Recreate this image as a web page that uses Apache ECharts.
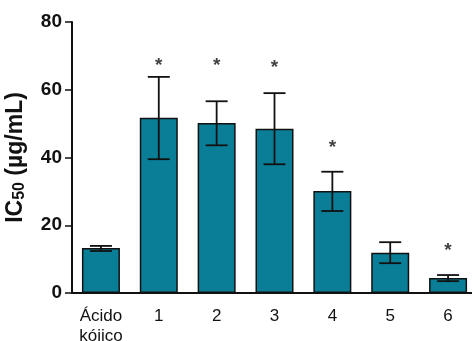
<!DOCTYPE html>
<html>
<head>
<meta charset="utf-8">
<script src="https://cdn.jsdelivr.net/npm/echarts@6/dist/echarts.min.js"></script>
<style>
  html, body { margin: 0; padding: 0; background: #fff; }
  #chart { width: 472px; height: 341px; }
</style>
</head>
<body>
<div id="chart"></div>
<script>
// IC50 values per compound (µg/mL) with error bar limits
const categories = ['Ácido\nkójico', '1', '2', '3', '4', '5', '6'];
const ic50 = [13.3, 51.7, 50.2, 48.5, 30.1, 11.9, 4.4];
const errLow = [12.4, 39.5, 43.6, 38.0, 24.2, 8.8, 3.5];
const errHigh = [13.9, 63.8, 56.6, 59.0, 35.8, 15.0, 5.3];
// significance markers: category index and height (µg/mL)
const starIndex = [1, 2, 3, 4, 6];
const starLevel = [68.6, 68.6, 68.0, 44.4, 13.9];
const yTicks = [0, 20, 40, 60, 80];

const chart = echarts.init(document.getElementById('chart'), null, { renderer: 'canvas' });

const errData = categories.map((c, i) => [i, errLow[i], errHigh[i]]);
const starData = starIndex.map((k, j) => [k, starLevel[j]]);

chart.setOption({
  animation: false,
  textStyle: { fontFamily: 'Liberation Sans, Arial, sans-serif' },
  grid: { left: 72, right: -5, top: 22, bottom: 48, containLabel: false, outerBoundsMode: 'none' },
  xAxis: {
    type: 'category',
    data: categories,
    boundaryGap: true,
    axisLine: { lineStyle: { color: '#111', width: 2 } },
    axisTick: { alignWithLabel: true, length: 7, lineStyle: { color: '#111', width: 1.5 } },
    axisLabel: { color: '#111', fontSize: 17, margin: 13, lineHeight: 20, interval: 0 }
  },
  yAxis: {
    type: 'value',
    min: yTicks[0],
    max: yTicks[yTicks.length - 1],
    interval: 20,
    splitLine: { show: false },
    axisLine: { show: true, lineStyle: { color: '#111', width: 2 } },
    axisTick: { show: true, length: 7, lineStyle: { color: '#111', width: 1.5 } },
    axisLabel: { color: '#111', fontSize: 19, fontWeight: 'bold', margin: 10 },
    name: '{a|IC}{b|50}{a| (µg/mL)}',
    nameLocation: 'middle',
    nameRotate: 90,
    nameGap: 44,
    nameTextStyle: {
      rich: {
        a: { fontSize: 23, fontWeight: 'bold', color: '#111', fontFamily: 'Liberation Sans' },
        b: { fontSize: 16, fontWeight: 'bold', color: '#111', fontFamily: 'Liberation Sans', verticalAlign: 'bottom', padding: [9, 0, 0, 0] }
      }
    }
  },
  series: [
    {
      type: 'bar',
      data: ic50,
      barWidth: 38,
      itemStyle: { color: '#0a7e97', borderColor: '#111', borderWidth: 1.5 }
    },
    {
      type: 'custom',
      data: errData,
      z: 5,
      renderItem: function (params, api) {
        const x = api.value(0);
        const lo = api.coord([x, api.value(1)]);
        const hi = api.coord([x, api.value(2)]);
        const half = 11;
        const style = { stroke: '#111', lineWidth: 1.8 };
        return {
          type: 'group',
          children: [
            { type: 'line', shape: { x1: hi[0], y1: hi[1], x2: lo[0], y2: lo[1] }, style: style },
            { type: 'line', shape: { x1: hi[0] - half, y1: hi[1], x2: hi[0] + half, y2: hi[1] }, style: style },
            { type: 'line', shape: { x1: lo[0] - half, y1: lo[1], x2: lo[0] + half, y2: lo[1] }, style: style }
          ]
        };
      }
    },
    {
      type: 'scatter',
      data: starData,
      symbolSize: 0,
      z: 6,
      label: {
        show: true,
        formatter: '*',
        position: 'inside',
        offset: [0, 5],
        fontSize: 19,
        fontWeight: 'bold',
        color: '#111',
        fontFamily: 'Liberation Sans'
      }
    }
  ]
});
</script>
</body>
</html>
